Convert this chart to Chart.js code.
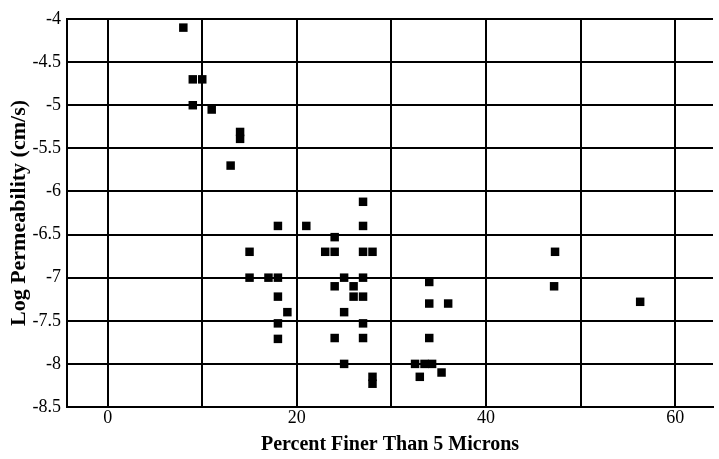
<!DOCTYPE html>
<html>
<head>
<meta charset="utf-8">
<script src="https://cdn.jsdelivr.net/npm/chart.js@4"></script>
<style>
  html, body { margin: 0; padding: 0; background: #fff; }
  #wrap { width: 719px; height: 459px; }
</style>
</head>
<body>
<div id="wrap"><canvas id="permChart" width="719" height="459"></canvas></div>
<script>
// percent finer than 5 microns
const finesPct = [
  8, 9, 10, 9, 11, 14, 14, 13,
  18, 21, 15, 15, 17, 18, 18, 19, 18, 18,
  27, 27, 24, 23, 24, 27, 28, 25, 27, 24, 26, 26, 27,
  25, 27, 24, 27, 25, 28, 28,
  34, 34, 36, 34, 32.5, 33.5, 34.3, 33, 35.3,
  47.3, 47.2, 56.3
];
// log permeability (cm/s)
const logPerm = [
  -4.1, -4.7, -4.7, -5.0, -5.05, -5.31, -5.39, -5.7,
  -6.4, -6.4, -6.7, -7.0, -7.0, -7.0, -7.22, -7.4, -7.53, -7.71,
  -6.12, -6.4, -6.53, -6.7, -6.7, -6.7, -6.7, -7.0, -7.0, -7.1, -7.1, -7.22, -7.22,
  -7.4, -7.53, -7.7, -7.7, -8.0, -8.15, -8.23,
  -7.05, -7.3, -7.3, -7.7, -8.0, -8.0, -8.0, -8.15, -8.1,
  -6.7, -7.1, -7.28
];
const xLabels = [0, 20, 40, 60];

const serif = '"Liberation Serif", "Times New Roman", serif';
const points = finesPct.map((x, i) => ({ x: x, y: logPerm[i] }));

new Chart(document.getElementById('permChart'), {
    type: 'scatter',
    data: {
        datasets: [{
            data: points,
            pointStyle: 'rect',
            pointRadius: 6,
            pointHoverRadius: 6,
            backgroundColor: '#000',
            borderColor: '#000',
            borderWidth: 0
        }]
    },
    options: {
        responsive: false,
        animation: false,
        layout: { padding: { top: 19, right: 0, left: 0, bottom: 0 } },
        plugins: {
            legend: { display: false },
            tooltip: { enabled: false }
        },
        scales: {
            x: {
                type: 'linear',
                min: -4.3,
                max: 64.0,
                afterBuildTicks: (axis) => {
                    axis.ticks = [0, 10, 20, 30, 40, 50, 60].map(v => ({ value: v }));
                },
                afterFit: (axis) => { axis.height = 52; },
                grid: { color: '#000', lineWidth: 2, drawTicks: false },
                border: { color: '#000', width: 2 },
                ticks: {
                    color: '#000',
                    padding: 0,
                    font: { family: serif, size: 18 },
                    callback: (v) => xLabels.includes(v) ? String(v) : ''
                },
                title: {
                    display: true,
                    text: 'Percent Finer Than 5 Microns',
                    color: '#000',
                    font: { family: serif, size: 20, weight: 'bold' },
                    padding: { top: 0, bottom: 2 }
                }
            },
            y: {
                type: 'linear',
                min: -8.5,
                max: -4,
                afterFit: (axis) => { axis.width = 67; },
                grid: { color: '#000', lineWidth: 2, drawTicks: false },
                border: { color: '#000', width: 2 },
                ticks: {
                    stepSize: 0.5,
                    color: '#000',
                    padding: 6,
                    font: { family: serif, size: 18 },
                    callback: (v) => String(v)
                },
                title: {
                    display: true,
                    text: 'Log Permeability (cm/s)',
                    color: '#000',
                    font: { family: serif, size: 22, weight: 'bold' },
                    padding: { top: 6, bottom: 0 }
                }
            }
        }
    }
});
</script>
</body>
</html>
